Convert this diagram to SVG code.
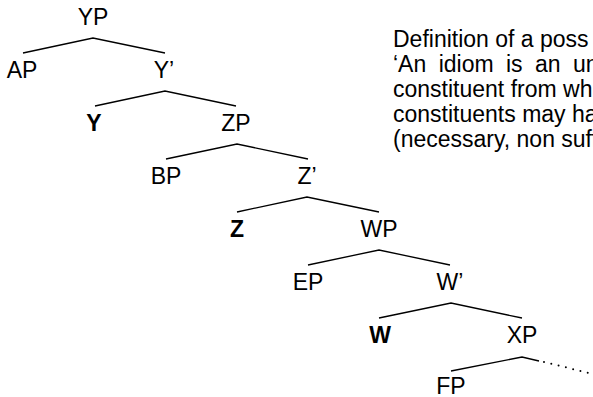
<svg xmlns="http://www.w3.org/2000/svg" width="593" height="397" viewBox="0 0 593 397">
<style>
text{font-family:"Liberation Sans","DejaVu Sans",sans-serif;font-size:23px;fill:#000}
.l{text-anchor:middle}
.b{font-weight:bold}
.e{stroke:#000;stroke-width:1.3;fill:none}
.d{stroke:#000;stroke-width:2;stroke-linecap:round;stroke-dasharray:0 7.5;fill:none}
</style>
<rect width="593" height="397" fill="#fff"/>
<g id="connectors">
<polyline class="e" points="23,53 93,38 165,53"/>
<polyline class="e" points="95,106 165,91 236,106"/>
<polyline class="e" points="166,159 237,144 308,159"/>
<polyline class="e" points="237,212 307,197 379,212"/>
<polyline class="e" points="308,265 379,250 450,265"/>
<polyline class="e" points="379,318 451,303 522,318"/>
<polyline class="e" points="451,371 522,357 539,361"/>
<line class="d" x1="544" y1="362" x2="593" y2="374"/>
</g>
<g id="YP"><text class="l" x="93" y="25">YP</text></g>
<g id="AP"><text class="l" x="22" y="78">AP</text></g>
<g id="Y1"><text class="l" x="164" y="78">Y’</text></g>
<g id="Y"><text class="l b" x="94" y="131">Y</text></g>
<g id="ZP"><text class="l" x="236" y="131">ZP</text></g>
<g id="BP"><text class="l" x="166" y="184">BP</text></g>
<g id="Z1"><text class="l" x="307" y="184">Z’</text></g>
<g id="Z"><text class="l b" x="237" y="237">Z</text></g>
<g id="WP"><text class="l" x="379" y="237">WP</text></g>
<g id="EP"><text class="l" x="308" y="290">EP</text></g>
<g id="W1"><text class="l" x="450" y="290">W’</text></g>
<g id="W"><text class="l b" x="380" y="343">W</text></g>
<g id="XP"><text class="l" x="522" y="343">XP</text></g>
<g id="FP"><text class="l" x="451" y="394">FP</text></g>
<g id="definition">
<text x="393" y="47">Definition of a poss</text>
<text x="393" y="72" word-spacing="6">‘An idiom is an un</text>
<text x="393" y="97">constituent from wh</text>
<text x="393" y="122">constituents may ha</text>
<text x="393" y="147">(necessary, non suff</text>
</g>
</svg>
